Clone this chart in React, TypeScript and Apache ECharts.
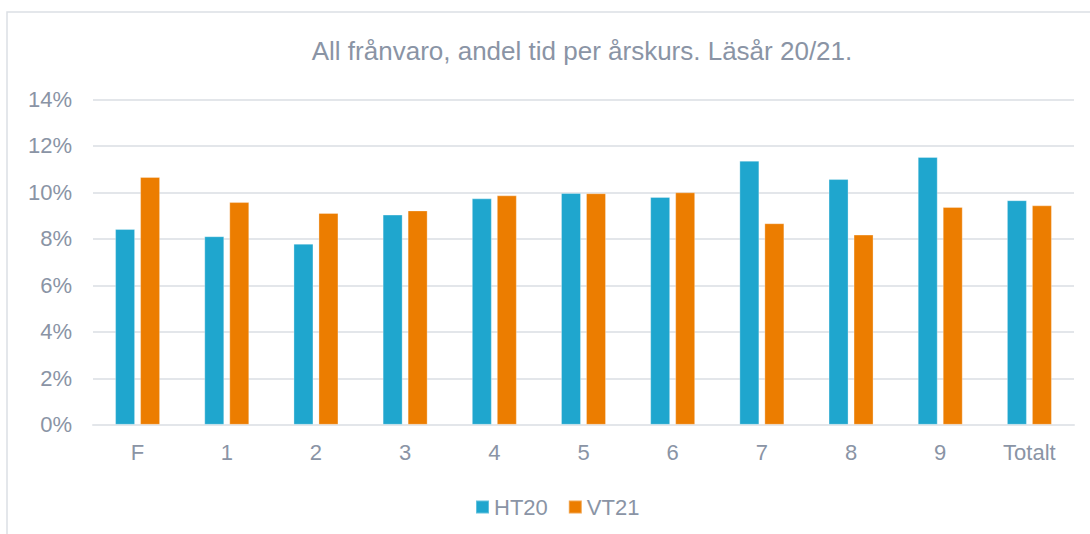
import React, { useEffect, useRef } from "react";
import * as echarts from "echarts";

const categories = ["F", "1", "2", "3", "4", "5", "6", "7", "8", "9", "Totalt"];
const ht20 = [8.42, 8.11, 7.79, 9.04, 9.74, 9.97, 9.8, 11.36, 10.57, 11.52, 9.66];
const vt21 = [10.66, 9.58, 9.11, 9.22, 9.87, 9.96, 10.0, 8.67, 8.18, 9.37, 9.44];
const seriesNames = ["HT20", "VT21"];
const titleText = "All frånvaro, andel tid per årskurs. Läsår 20/21.";

const FONT = "'Liberation Sans', Arial, sans-serif";
const TEXT = "#8A94A5";
const GRID = "#E3E6EA";

export default function App() {
  const ref = useRef<HTMLDivElement>(null);
  useEffect(() => {
    if (!ref.current) return;
    const chart = echarts.init(ref.current, undefined, { renderer: "svg" });
    chart.setOption({
      animation: false,
      textStyle: { fontFamily: FONT },
      graphic: [
        {
          type: "rect",
          shape: { x: 7, y: 12, width: 1300, height: 700 },
          style: { fill: "none", stroke: "#DCE0E5", lineWidth: 1.5 },
          silent: true,
        },
        {
          type: "text",
          x: 582,
          y: 51,
          style: {
            text: titleText,
            font: `26px ${FONT}`,
            fill: TEXT,
            align: "center",
            verticalAlign: "middle",
            textAlign: "center",
            textVerticalAlign: "middle",
          },
        },
      ],
      legend: {
        left: 470,
        top: 491,
        itemWidth: 13,
        itemHeight: 13,
        itemGap: 20,
        icon: "rect",
        textStyle: { color: TEXT, fontSize: 22, fontFamily: FONT },
        data: seriesNames,
      },
      grid: {
        left: 93,
        right: 16,
        top: 99.3,
        bottom: 109.2,
        containLabel: false,
        outerBoundsMode: "none",
      },
      xAxis: {
        type: "category",
        data: categories,
        axisLine: { show: true, lineStyle: { color: GRID, width: 2 } },
        axisTick: { show: false },
        axisLabel: { color: TEXT, fontSize: 22, fontFamily: FONT, margin: 17 },
      },
      yAxis: {
        type: "value",
        min: 0,
        max: 14,
        interval: 2,
        axisLine: { show: false },
        axisTick: { show: false },
        splitLine: { lineStyle: { color: GRID, width: 2 } },
        axisLabel: {
          color: TEXT,
          fontSize: 22,
          fontFamily: FONT,
          margin: 21,
          formatter: (v: number) => `${v}%`,
        },
      },
      series: [
        {
          name: seriesNames[0],
          type: "bar",
          data: ht20,
          barWidth: 20,
          barGap: "25%",
          itemStyle: { color: "#1FA6CE", borderColor: "rgba(255,255,255,0.3)", borderWidth: 1 },
        },
        {
          name: seriesNames[1],
          type: "bar",
          data: vt21,
          barWidth: 20,
          barGap: "25%",
          itemStyle: { color: "#EC7D00", borderColor: "rgba(255,255,255,0.3)", borderWidth: 1 },
        },
      ],
    });
    return () => chart.dispose();
  }, []);
  return (
    <div
      ref={ref}
      style={{ position: "absolute", left: 0, top: 0, width: 1090, height: 534, background: "#fff" }}
    />
  );
}
